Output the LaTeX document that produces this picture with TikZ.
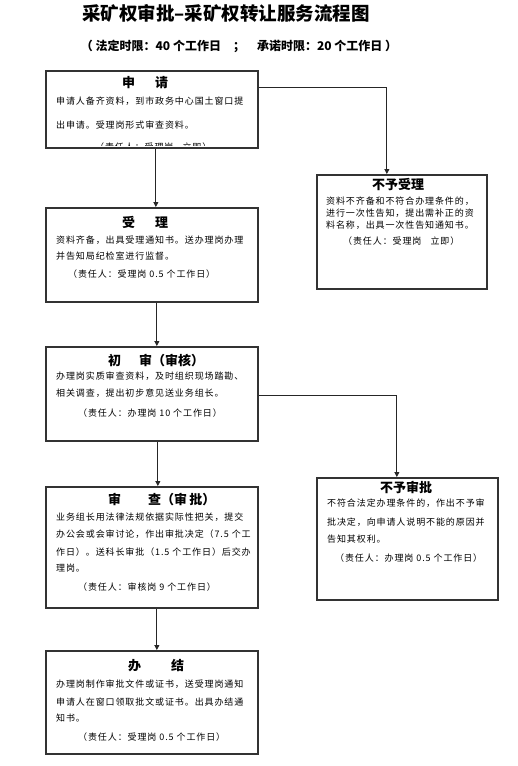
\documentclass[tikz,border=0pt]{standalone}
\usepackage{fontspec}
\setmainfont{Noto Sans CJK SC}
\newfontfamily\bodyfont[LetterSpace=10]{Noto Sans CJK SC}
\usetikzlibrary{arrows.meta}
\begin{document}
\begin{tikzpicture}[x=1pt,y=-1pt,
  box/.style={draw=black!80,line width=1.7pt,inner sep=0,anchor=north west,fill=white},
  conn/.style={draw=black!85,line width=0.8pt,-{Triangle[length=5pt,width=5pt]}},
  txt/.style={anchor=west,inner sep=0,font=\bodyfont\fontsize{9}{11}\selectfont},
  hd/.style={anchor=west,inner sep=0,font=\fontsize{13}{15}\selectfont\bfseries},
  ]
\useasboundingbox[fill=white] (0,0) rectangle (517,766);
% title
\node[inner sep=0,font=\fontsize{18.5}{20}\selectfont\bfseries] (title) at (226,13) {采矿权审批–采矿权转让服务流程图};
\node[inner sep=0,font=\fontsize{12}{14}\selectfont\bfseries] (sub) at (239,46) {（ 法定时限：40 个工作日\quad ；\quad 承诺时限：20 个工作日 ）};
% boxes
\node[box,minimum width=212pt,minimum height=77pt] (b1) at (45,70) {};
\node[box,minimum width=212pt,minimum height=94pt] (b2) at (45,207) {};
\node[box,minimum width=212pt,minimum height=94pt] (b3) at (45,346) {};
\node[box,minimum width=212pt,minimum height=121pt] (b4) at (45,486) {};
\node[box,minimum width=212pt,minimum height=103pt] (b5) at (45,650) {};
\node[box,minimum width=170pt,minimum height=114pt] (n1) at (316,174) {};
\node[box,minimum width=181pt,minimum height=122pt] (n2) at (316,477) {};
% connectors
\draw[conn] ([xshift=4pt]b1.south) -- ([xshift=4pt]b2.north);
\draw[conn] ([xshift=5pt]b2.south) -- ([xshift=5pt]b3.north);
\draw[conn] ([xshift=6pt]b3.south) -- ([xshift=6pt]b4.north);
\draw[conn] ([xshift=5pt]b4.south) -- ([xshift=5pt]b5.north);
\draw[conn] ([yshift=-17pt]b1.north east) -| ([xshift=-15pt]n1.north);
\draw[conn] ([yshift=-2pt]b3.east) -| ([xshift=-10.5pt]n2.north);
% box 1
\node[hd] (h1) at (122,83) {申\hspace{20pt}请};
\node[txt] (b1a) at (56,101) {申请人备齐资料，到市政务中心国土窗口提};
\node[txt] (b1b) at (56,125) {出申请。受理岗形式审查资料。};
\begin{scope}
\clip (46,71) rectangle (256,145.5);
\node[txt] (b1c) at (95,147) {（责任人：受理岗\quad 立即）};
\end{scope}
% box 2
\node[hd] (h2) at (122,222) {受\hspace{20pt}理};
\node[txt] (b2a) at (56,240) {资料齐备，出具受理通知书。送办理岗办理};
\node[txt] (b2b) at (56,256) {并告知局纪检室进行监督。};
\node[txt] (b2c) at (68,274) {（责任人：受理岗 0.5 个工作日）};
% box 3
\node[hd] (h3) at (108,361) {初\hspace{18pt}审（审核）};
\node[txt] (b3a) at (56,376) {办理岗实质审查资料，及时组织现场踏勘、};
\node[txt] (b3b) at (56,393) {相关调查，提出初步意见送业务组长。};
\node[txt] (b3c) at (78,413) {（责任人：办理岗 10 个工作日）};
% box 4
\node[hd] (h4) at (108,500) {审\hspace{27pt}查（审\,批）};
\node[txt] (b4a) at (56,517) {业务组长用法律法规依据实际性把关，提交};
\node[txt] (b4b) at (56,534) {办公会或会审讨论，作出审批决定（7.5 个工};
\node[txt] (b4c) at (56,552) {作日）。送科长审批（1.5 个工作日）后交办};
\node[txt] (b4d) at (56,568) {理岗。};
\node[txt] (b4e) at (78,587) {（责任人：审核岗 9 个工作日）};
% box 5
\node[hd] (h5) at (128,666) {办\hspace{30pt}结};
\node[txt] (b5a) at (56,684) {办理岗制作审批文件或证书，送受理岗通知};
\node[txt] (b5b) at (56,702) {申请人在窗口领取批文或证书。出具办结通};
\node[txt] (b5c) at (56,718) {知书。};
\node[txt] (b5d) at (78,737) {（责任人：受理岗 0.5 个工作日）};
% n1
\node[hd] (h6) at (372,185) {不予受理};
\node[txt] (n1a) at (326,201) {资料不齐备和不符合办理条件的，};
\node[txt] (n1b) at (326,213) {进行一次性告知，提出需补正的资};
\node[txt] (n1c) at (326,225) {料名称，出具一次性告知通知书。};
\node[txt] (n1d) at (343,241) {（责任人：受理岗\quad 立即）};
% n2
\node[hd] (h7) at (380,487) {不予审批};
\node[txt] (n2a) at (327,503) {不符合法定办理条件的，作出不予审};
\node[txt] (n2b) at (327,522) {批决定，向申请人说明不能的原因并};
\node[txt] (n2c) at (327,539) {告知其权利。};
\node[txt] (n2d) at (335,558) {（责任人：办理岗 0.5 个工作日）};
\end{tikzpicture}
\end{document}
